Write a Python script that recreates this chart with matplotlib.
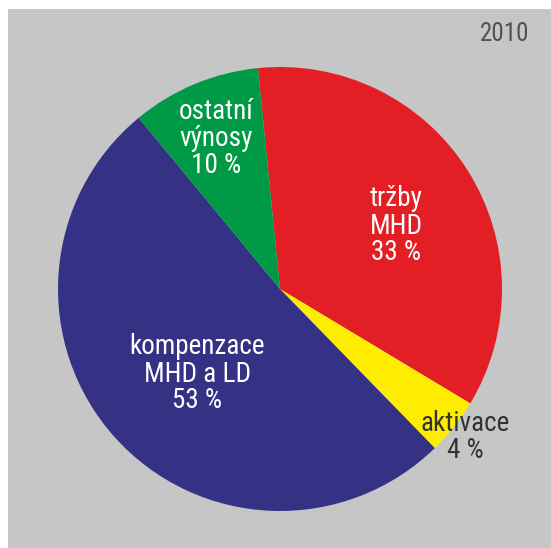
import matplotlib.pyplot as plt
from matplotlib import font_manager as fm
from matplotlib.patches import Rectangle

# slice shares as drawn (clockwise from the top)
labels = ['tržby\nMHD', 'aktivace', 'kompenzace\nMHD a LD', 'ostatní\nvýnosy']
shares = [35.2, 4.1, 51.3, 9.4]
pct_text = ['33 %', '4 %', '53 %', '10 %']
colors = ['#e31e24', '#ffed00', '#353285', '#009a46']
text_colors = ['white', '#333333', 'white', 'white']
year = '2010'

# narrow font if there is one
installed = {f.name for f in fm.fontManager.ttflist}
font, stretch = 'DejaVu Sans', 'condensed'
for name in ['Liberation Sans Narrow', 'Roboto Condensed', 'Open Sans Condensed']:
    if name in installed:
        font, stretch = name, 'normal'
        break

W, H = 551, 548
fig = plt.figure(figsize=(W / 100, H / 100), dpi=100)
fig.patch.set_facecolor('white')
fig.patches.append(Rectangle((8 / W, 0), 1, 1 - 9 / H, transform=fig.transFigure,
                             facecolor='#c6c6c6', edgecolor='none', zorder=-5))

# pie centre (280, 289) px, radius 222 px
cx, cy, r = 280, 289, 222
ax = fig.add_axes([(cx - r) / W, (H - cy - r) / H, 2 * r / W, 2 * r / H])
ax.pie(shares, colors=colors, startangle=95.7, counterclock=False, radius=1,
       wedgeprops=dict(linewidth=0))
ax.set_xlim(-1, 1)
ax.set_ylim(-1, 1)
ax.set_aspect('equal')
ax.axis('off')

# label centres in pixels
pos = [(396, 226), (465, 437), (197, 374), (216, 138)]
for lab, p, (x, y), c in zip(labels, pct_text, pos, text_colors):
    fig.text(x / W, 1 - y / H, lab + '\n' + p, ha='center', va='center',
             fontsize=19.5, color=c, family=font, fontstretch=stretch,
             linespacing=1.0)

fig.text(505 / W, 1 - 34 / H, year, ha='center', va='center', fontsize=18,
         color='#4d5257', family=font, fontstretch=stretch)

fig.savefig('out.png', dpi=100)
